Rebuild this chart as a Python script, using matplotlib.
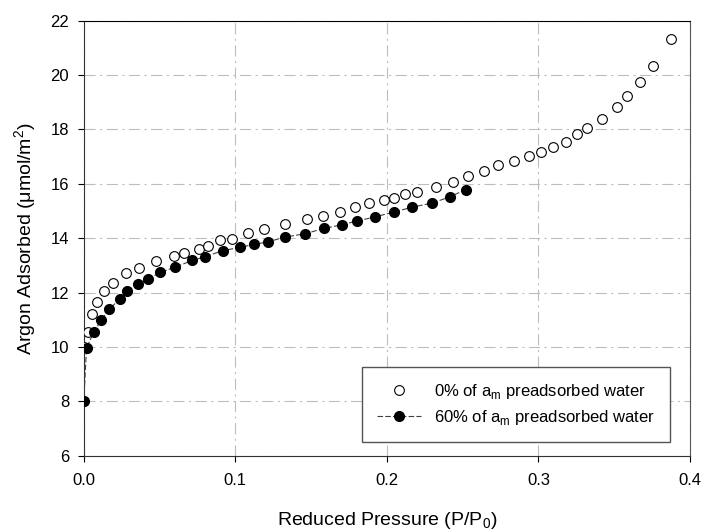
import matplotlib
matplotlib.use("Agg")
import matplotlib.pyplot as plt

plt.rcParams['font.family'] = ['Liberation Sans', 'DejaVu Sans']

# 0% of a_m preadsorbed water (open circles)
p0_x = [0.0, 0.0029, 0.0051, 0.009, 0.0134, 0.0194, 0.0277, 0.0363, 0.0477, 0.0596,
        0.0662, 0.0761, 0.0823, 0.090, 0.0977, 0.1085, 0.119, 0.1327, 0.1472, 0.158,
        0.1688, 0.1793, 0.1884, 0.198, 0.2048, 0.2119, 0.2196, 0.2323, 0.2438, 0.2537,
        0.264, 0.2731, 0.284, 0.294, 0.3017, 0.3094, 0.318, 0.3252, 0.3318, 0.3421,
        0.352, 0.3582, 0.367, 0.3754, 0.3875]
p0_y = [10.0, 10.54, 11.20, 11.65, 12.05, 12.36, 12.71, 12.89, 13.16, 13.34,
        13.46, 13.60, 13.72, 13.93, 13.98, 14.19, 14.32, 14.51, 14.69, 14.82,
        14.97, 15.15, 15.28, 15.41, 15.49, 15.62, 15.68, 15.89, 16.07, 16.28,
        16.48, 16.69, 16.85, 17.04, 17.17, 17.36, 17.54, 17.82, 18.07, 18.40,
        18.83, 19.22, 19.74, 20.33, 21.31]

# 60% of a_m preadsorbed water (filled circles)
p60_x = [0.0, 0.0018, 0.0066, 0.0114, 0.0167, 0.0238, 0.0282, 0.0361, 0.0425, 0.0506,
         0.0605, 0.0717, 0.0801, 0.0917, 0.103, 0.1124, 0.1213, 0.1327, 0.1459, 0.1586,
         0.1701, 0.1802, 0.1921, 0.2046, 0.2167, 0.2299, 0.2416, 0.2521]
p60_y = [8.0, 9.96, 10.54, 10.99, 11.38, 11.76, 12.05, 12.30, 12.50, 12.74,
         12.94, 13.18, 13.32, 13.54, 13.66, 13.77, 13.86, 14.04, 14.16, 14.36,
         14.49, 14.63, 14.78, 14.96, 15.14, 15.29, 15.52, 15.79]

x_ticks = [0.0, 0.1, 0.2, 0.3, 0.4]
y_ticks = [6, 8, 10, 12, 14, 16, 18, 20, 22]

fig = plt.figure(figsize=(7.04, 5.31), dpi=100)
ax = fig.add_axes([0.119, 0.142, 0.861, 0.819])

ax.plot(p0_x, p0_y, 'o', ms=7, mfc='white', mec='black', mew=0.8,
        label='0% of a$_\\mathregular{m}$ preadsorbed water', zorder=3)
ax.plot(p60_x, p60_y, 'o', ls=(0, (5, 2)), lw=0.8, color='#404040', ms=7,
        mfc='black', mec='black',
        label='60% of a$_\\mathregular{m}$ preadsorbed water', zorder=4)

ax.set_xlim(0, 0.4)
ax.set_ylim(6, 22)
ax.set_xticks(x_ticks)
ax.set_xticklabels(['%.1f' % v for v in x_ticks])
ax.set_yticks(y_ticks)
ax.tick_params(labelsize=12, length=4.5, width=0.8, direction='out')
ax.tick_params(axis='x', pad=8)
ax.tick_params(axis='y', pad=6)
ax.grid(True, color='#bdbdbd', lw=0.8, ls=(0, (10, 4, 2, 4)))
ax.set_axisbelow(True)

for s in ['left', 'bottom']:
    ax.spines[s].set_color('#333333')
ax.spines['top'].set_color('black')
ax.spines['right'].set_color('#555555')

ax.set_xlabel('Reduced Pressure (P/P$_\\mathregular{0}$)', fontsize=14, labelpad=16)
ax.set_ylabel('Argon Adsorbed (\u03bcmol/m$^\\mathregular{2}$)', fontsize=14, labelpad=8)

leg = ax.legend(loc='lower right', bbox_to_anchor=(0.967, 0.031), fontsize=12,
                fancybox=False, framealpha=1, edgecolor='#555555',
                borderpad=0.9, handlelength=2.6, labelspacing=0.45,
                borderaxespad=0)
leg.get_frame().set_linewidth(1.0)

fig.savefig('out.png', dpi=100)
